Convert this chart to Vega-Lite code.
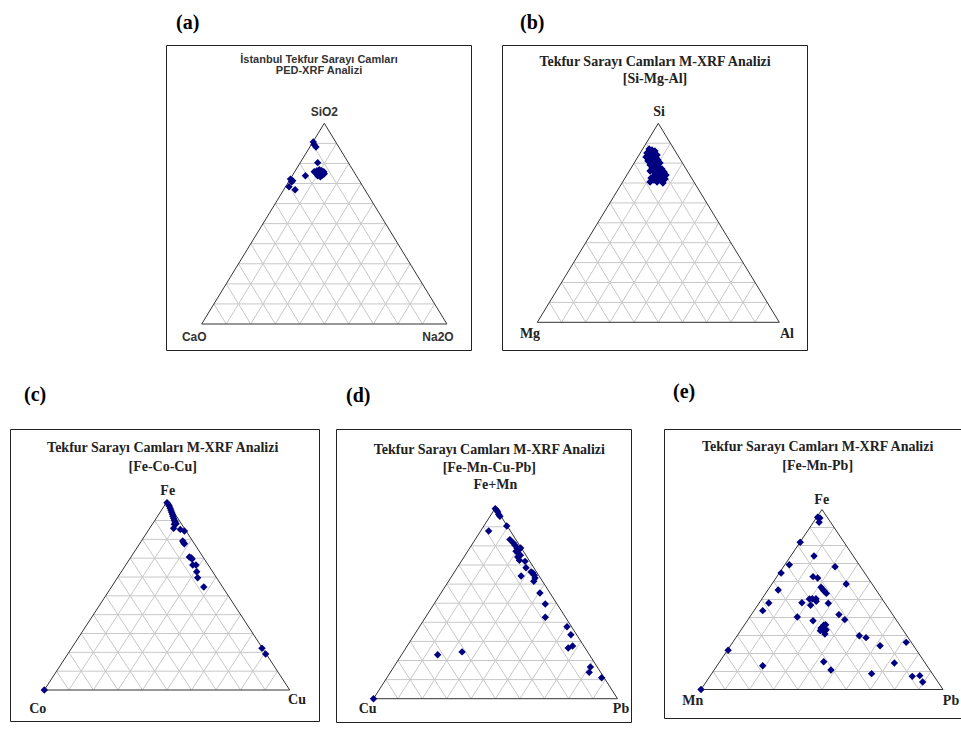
{
"$schema":"https://vega.github.io/schema/vega-lite/v6.json",
"background":"white",
"padding":{"left":0,"top":12,"right":0,"bottom":0},
"spacing":30,
"datasets":{
"grid":[
{"x":0.05,"y":0.1,"x2":0.95,"y2":0.1},{"x":0.1,"y":0.2,"x2":0.9,"y2":0.2},{"x":0.15,"y":0.3,"x2":0.85,"y2":0.3},{"x":0.2,"y":0.4,"x2":0.8,"y2":0.4},{"x":0.25,"y":0.5,"x2":0.75,"y2":0.5},{"x":0.3,"y":0.6,"x2":0.7,"y2":0.6},{"x":0.35,"y":0.7,"x2":0.65,"y2":0.7},{"x":0.4,"y":0.8,"x2":0.6,"y2":0.8},{"x":0.45,"y":0.9,"x2":0.55,"y2":0.9},
{"x":0.1,"y":0,"x2":0.55,"y2":0.9},{"x":0.2,"y":0,"x2":0.6,"y2":0.8},{"x":0.3,"y":0,"x2":0.65,"y2":0.7},{"x":0.4,"y":0,"x2":0.7,"y2":0.6},{"x":0.5,"y":0,"x2":0.75,"y2":0.5},{"x":0.6,"y":0,"x2":0.8,"y2":0.4},{"x":0.7,"y":0,"x2":0.85,"y2":0.3},{"x":0.8,"y":0,"x2":0.9,"y2":0.2},{"x":0.9,"y":0,"x2":0.95,"y2":0.1},
{"x":0.1,"y":0,"x2":0.05,"y2":0.1},{"x":0.2,"y":0,"x2":0.1,"y2":0.2},{"x":0.3,"y":0,"x2":0.15,"y2":0.3},{"x":0.4,"y":0,"x2":0.2,"y2":0.4},{"x":0.5,"y":0,"x2":0.25,"y2":0.5},{"x":0.6,"y":0,"x2":0.3,"y2":0.6},{"x":0.7,"y":0,"x2":0.35,"y2":0.7},{"x":0.8,"y":0,"x2":0.4,"y2":0.8},{"x":0.9,"y":0,"x2":0.45,"y2":0.9}
],
"edges":[{"x":0,"y":0,"x2":1,"y2":0},{"x":0,"y":0,"x2":0.5,"y2":1},{"x":1,"y":0,"x2":0.5,"y2":1}],
"a":[
{"x":0.455,"y":0.907},{"x":0.458,"y":0.894},{"x":0.466,"y":0.882},{"x":0.473,"y":0.804},{"x":0.459,"y":0.759},{"x":0.47,"y":0.764},{"x":0.48,"y":0.769},{"x":0.489,"y":0.764},{"x":0.498,"y":0.759},{"x":0.5,"y":0.749},{"x":0.487,"y":0.747},{"x":0.473,"y":0.739},{"x":0.466,"y":0.752},{"x":0.48,"y":0.756},{"x":0.484,"y":0.734},{"x":0.493,"y":0.742},{"x":0.423,"y":0.739},{"x":0.362,"y":0.722},{"x":0.367,"y":0.709},{"x":0.371,"y":0.714},{"x":0.356,"y":0.684},{"x":0.381,"y":0.669}
],
"b":[
{"x":0.462,"y":0.871},{"x":0.474,"y":0.866},{"x":0.486,"y":0.861},{"x":0.453,"y":0.851},{"x":0.466,"y":0.846},{"x":0.482,"y":0.846},{"x":0.495,"y":0.841},{"x":0.449,"y":0.831},{"x":0.462,"y":0.826},{"x":0.474,"y":0.831},{"x":0.491,"y":0.826},{"x":0.457,"y":0.811},{"x":0.47,"y":0.806},{"x":0.486,"y":0.811},{"x":0.499,"y":0.816},{"x":0.466,"y":0.791},{"x":0.478,"y":0.791},{"x":0.495,"y":0.796},{"x":0.507,"y":0.801},{"x":0.474,"y":0.775},{"x":0.491,"y":0.775},{"x":0.503,"y":0.78},{"x":0.515,"y":0.77},{"x":0.466,"y":0.76},{"x":0.482,"y":0.755},{"x":0.499,"y":0.76},{"x":0.511,"y":0.75},{"x":0.524,"y":0.755},{"x":0.486,"y":0.74},{"x":0.503,"y":0.735},{"x":0.519,"y":0.735},{"x":0.532,"y":0.74},{"x":0.47,"y":0.725},{"x":0.482,"y":0.715},{"x":0.499,"y":0.72},{"x":0.515,"y":0.715},{"x":0.528,"y":0.72},{"x":0.466,"y":0.705},{"x":0.495,"y":0.705},{"x":0.519,"y":0.7}
],
"c":[
{"x":0.5,"y":0.995},{"x":0.505,"y":0.986},{"x":0.509,"y":0.977},{"x":0.513,"y":0.965},{"x":0.516,"y":0.954},{"x":0.519,"y":0.944},{"x":0.522,"y":0.933},{"x":0.524,"y":0.923},{"x":0.527,"y":0.912},{"x":0.53,"y":0.901},{"x":0.533,"y":0.892},{"x":0.537,"y":0.883},{"x":0.53,"y":0.88},{"x":0.527,"y":0.859},{"x":0.554,"y":0.853},{"x":0.571,"y":0.844},{"x":0.564,"y":0.791},{"x":0.568,"y":0.782},{"x":0.571,"y":0.777},{"x":0.591,"y":0.706},{"x":0.598,"y":0.703},{"x":0.602,"y":0.696},{"x":0.605,"y":0.664},{"x":0.618,"y":0.664},{"x":0.621,"y":0.628},{"x":0.625,"y":0.596},{"x":0.65,"y":0.547},{"x":0.887,"y":0.222},{"x":0.902,"y":0.191},{"x":0,"y":0}
],
"d":[
{"x":0.499,"y":0.995},{"x":0.505,"y":0.986},{"x":0.509,"y":0.978},{"x":0.513,"y":0.965},{"x":0.518,"y":0.955},{"x":0.546,"y":0.904},{"x":0.472,"y":0.878},{"x":0.559,"y":0.833},{"x":0.573,"y":0.815},{"x":0.58,"y":0.803},{"x":0.588,"y":0.789},{"x":0.598,"y":0.782},{"x":0.603,"y":0.789},{"x":0.584,"y":0.772},{"x":0.593,"y":0.763},{"x":0.602,"y":0.751},{"x":0.591,"y":0.742},{"x":0.598,"y":0.725},{"x":0.621,"y":0.719},{"x":0.625,"y":0.686},{"x":0.646,"y":0.663},{"x":0.653,"y":0.658},{"x":0.659,"y":0.646},{"x":0.662,"y":0.632},{"x":0.657,"y":0.615},{"x":0.605,"y":0.642},{"x":0.682,"y":0.553},{"x":0.704,"y":0.496},{"x":0.704,"y":0.426},{"x":0.793,"y":0.377},{"x":0.809,"y":0.335},{"x":0.798,"y":0.265},{"x":0.816,"y":0.276},{"x":0.263,"y":0.23},{"x":0.363,"y":0.245},{"x":0.889,"y":0.166},{"x":0.884,"y":0.138},{"x":0.935,"y":0.11},{"x":0,"y":0}
],
"e":[
{"x":0.482,"y":0.957},{"x":0.491,"y":0.953},{"x":0.488,"y":0.929},{"x":0.41,"y":0.818},{"x":0.467,"y":0.742},{"x":0.365,"y":0.693},{"x":0.554,"y":0.682},{"x":0.331,"y":0.647},{"x":0.463,"y":0.627},{"x":0.482,"y":0.619},{"x":0.6,"y":0.586},{"x":0.496,"y":0.568},{"x":0.504,"y":0.554},{"x":0.51,"y":0.546},{"x":0.518,"y":0.534},{"x":0.319,"y":0.553},{"x":0.28,"y":0.481},{"x":0.417,"y":0.482},{"x":0.448,"y":0.503},{"x":0.46,"y":0.504},{"x":0.475,"y":0.504},{"x":0.476,"y":0.49},{"x":0.453,"y":0.468},{"x":0.526,"y":0.479},{"x":0.255,"y":0.438},{"x":0.398,"y":0.403},{"x":0.57,"y":0.416},{"x":0.594,"y":0.388},{"x":0.463,"y":0.382},{"x":0.507,"y":0.357},{"x":0.515,"y":0.36},{"x":0.496,"y":0.342},{"x":0.503,"y":0.332},{"x":0.51,"y":0.323},{"x":0.512,"y":0.308},{"x":0.493,"y":0.327},{"x":0.517,"y":0.332},{"x":0.654,"y":0.299},{"x":0.682,"y":0.288},{"x":0.74,"y":0.243},{"x":0.848,"y":0.262},{"x":0.112,"y":0.218},{"x":0.255,"y":0.132},{"x":0.507,"y":0.154},{"x":0.537,"y":0.108},{"x":0.799,"y":0.147},{"x":0.705,"y":0.088},{"x":0.873,"y":0.073},{"x":0.904,"y":0.077},{"x":0.916,"y":0.042},{"x":0,"y":0}
]
},
"vconcat":[
{"spacing":0,"hconcat":[
{"width":165,"height":1,"data":{"values":[]},"mark":"point","view":{"stroke":null}},
{"width":305,"height":305,"title":{"text":"(a)","dx":10,"offset":12},
"layer":[
{"data":{"name":"grid"},"mark":{"type":"rule","color":"#c8c8c8","strokeWidth":1},"encoding":{"x":{"field":"x","type":"quantitative","scale":{"domain":[-0.1456,1.0983],"nice":false,"zero":false},"axis":null},"y":{"field":"y","type":"quantitative","scale":{"domain":[-0.1295,1.3901],"nice":false,"zero":false},"axis":null},"x2":{"field":"x2"},"y2":{"field":"y2"}}},
{"data":{"name":"edges"},"mark":{"type":"rule","color":"#333333","strokeWidth":1},"encoding":{"x":{"field":"x","type":"quantitative","scale":{"domain":[-0.1456,1.0983],"nice":false,"zero":false},"axis":null},"y":{"field":"y","type":"quantitative","scale":{"domain":[-0.1295,1.3901],"nice":false,"zero":false},"axis":null},"x2":{"field":"x2"},"y2":{"field":"y2"}}},
{"data":{"name":"a"},"mark":{"type":"point","shape":"diamond","filled":true,"color":"#000080","size":55,"opacity":1},"encoding":{"x":{"field":"x","type":"quantitative","scale":{"domain":[-0.1456,1.0983],"nice":false,"zero":false},"axis":null},"y":{"field":"y","type":"quantitative","scale":{"domain":[-0.1295,1.3901],"nice":false,"zero":false},"axis":null}}},
{"data":{"values":[{}]},"mark":{"type":"text","font":"Liberation Sans","fontSize":11,"fontWeight":"bold","color":"#333333"},"encoding":{"x":{"datum":0.4784,"type":"quantitative"},"y":{"datum":1.3154,"type":"quantitative"},"text":{"value":"İstanbul Tekfur Sarayı Camları"}}},
{"data":{"values":[{}]},"mark":{"type":"text","font":"Liberation Sans","fontSize":11,"fontWeight":"bold","color":"#333333"},"encoding":{"x":{"datum":0.4784,"type":"quantitative"},"y":{"datum":1.2596,"type":"quantitative"},"text":{"value":"PED-XRF Analizi"}}},
{"data":{"values":[{}]},"mark":{"type":"text","font":"Liberation Sans","fontSize":12,"fontWeight":"bold","color":"#333333"},"encoding":{"x":{"datum":0.5,"type":"quantitative"},"y":{"datum":1.0563,"type":"quantitative"},"text":{"value":"SiO2"}}},
{"data":{"values":[{}]},"mark":{"type":"text","font":"Liberation Sans","fontSize":12,"fontWeight":"bold","color":"#333333"},"encoding":{"x":{"datum":-0.0302,"type":"quantitative"},"y":{"datum":-0.0633,"type":"quantitative"},"text":{"value":"CaO"}}},
{"data":{"values":[{}]},"mark":{"type":"text","font":"Liberation Sans","fontSize":12,"fontWeight":"bold","color":"#333333"},"encoding":{"x":{"datum":0.9637,"type":"quantitative"},"y":{"datum":-0.0633,"type":"quantitative"},"text":{"value":"Na2O"}}}
]},
{"width":29,"height":1,"data":{"values":[]},"mark":"point","view":{"stroke":null}},
{"width":305,"height":305,"title":{"text":"(b)","dx":18,"offset":12},
"layer":[
{"data":{"name":"grid"},"mark":{"type":"rule","color":"#c8c8c8","strokeWidth":1},"encoding":{"x":{"field":"x","type":"quantitative","scale":{"domain":[-0.1459,1.1145],"nice":false,"zero":false},"axis":null},"y":{"field":"y","type":"quantitative","scale":{"domain":[-0.1392,1.3935],"nice":false,"zero":false},"axis":null},"x2":{"field":"x2"},"y2":{"field":"y2"}}},
{"data":{"name":"edges"},"mark":{"type":"rule","color":"#333333","strokeWidth":1},"encoding":{"x":{"field":"x","type":"quantitative","scale":{"domain":[-0.1459,1.1145],"nice":false,"zero":false},"axis":null},"y":{"field":"y","type":"quantitative","scale":{"domain":[-0.1392,1.3935],"nice":false,"zero":false},"axis":null},"x2":{"field":"x2"},"y2":{"field":"y2"}}},
{"data":{"name":"b"},"mark":{"type":"point","shape":"diamond","filled":true,"color":"#000080","size":55,"opacity":1},"encoding":{"x":{"field":"x","type":"quantitative","scale":{"domain":[-0.1459,1.1145],"nice":false,"zero":false},"axis":null},"y":{"field":"y","type":"quantitative","scale":{"domain":[-0.1392,1.3935],"nice":false,"zero":false},"axis":null}}},
{"data":{"values":[{}]},"mark":{"type":"text","fontSize":14},"encoding":{"x":{"datum":0.4864,"type":"quantitative"},"y":{"datum":1.3065,"type":"quantitative"},"text":{"value":"Tekfur Sarayı Camları M-XRF Analizi"}}},
{"data":{"values":[{}]},"mark":{"type":"text","fontSize":14},"encoding":{"x":{"datum":0.4864,"type":"quantitative"},"y":{"datum":1.2226,"type":"quantitative"},"text":{"value":"[Si-Mg-Al]"}}},
{"data":{"values":[{}]},"mark":{"type":"text"},"encoding":{"x":{"datum":0.5029,"type":"quantitative"},"y":{"datum":1.0568,"type":"quantitative"},"text":{"value":"Si"}}},
{"data":{"values":[{}]},"mark":{"type":"text"},"encoding":{"x":{"datum":-0.0302,"type":"quantitative"},"y":{"datum":-0.0588,"type":"quantitative"},"text":{"value":"Mg"}}},
{"data":{"values":[{}]},"mark":{"type":"text"},"encoding":{"x":{"datum":1.0318,"type":"quantitative"},"y":{"datum":-0.0588,"type":"quantitative"},"text":{"value":"Al"}}}
]}
]},
{"spacing":0,"hconcat":[
{"width":9,"height":1,"data":{"values":[]},"mark":"point","view":{"stroke":null}},
{"width":309,"height":292,"title":{"text":"(c)","dx":14,"offset":24},
"layer":[
{"data":{"name":"grid"},"mark":{"type":"rule","color":"#c8c8c8","strokeWidth":1},"encoding":{"x":{"field":"x","type":"quantitative","scale":{"domain":[-0.1398,1.1194],"nice":false,"zero":false},"axis":null},"y":{"field":"y","type":"quantitative","scale":{"domain":[-0.1646,1.3861],"nice":false,"zero":false},"axis":null},"x2":{"field":"x2"},"y2":{"field":"y2"}}},
{"data":{"name":"edges"},"mark":{"type":"rule","color":"#333333","strokeWidth":1},"encoding":{"x":{"field":"x","type":"quantitative","scale":{"domain":[-0.1398,1.1194],"nice":false,"zero":false},"axis":null},"y":{"field":"y","type":"quantitative","scale":{"domain":[-0.1646,1.3861],"nice":false,"zero":false},"axis":null},"x2":{"field":"x2"},"y2":{"field":"y2"}}},
{"data":{"name":"c"},"mark":{"type":"point","shape":"diamond","filled":true,"color":"#000080","size":55,"opacity":1},"encoding":{"x":{"field":"x","type":"quantitative","scale":{"domain":[-0.1398,1.1194],"nice":false,"zero":false},"axis":null},"y":{"field":"y","type":"quantitative","scale":{"domain":[-0.1646,1.3861],"nice":false,"zero":false},"axis":null}}},
{"data":{"values":[{}]},"mark":{"type":"text","fontSize":14},"encoding":{"x":{"datum":0.4825,"type":"quantitative"},"y":{"datum":1.2868,"type":"quantitative"},"text":{"value":"Tekfur Sarayı Camları M-XRF Analizi"}}},
{"data":{"values":[{}]},"mark":{"type":"text","fontSize":14},"encoding":{"x":{"datum":0.4825,"type":"quantitative"},"y":{"datum":1.1843,"type":"quantitative"},"text":{"value":"[Fe-Co-Cu]"}}},
{"data":{"values":[{}]},"mark":{"type":"text"},"encoding":{"x":{"datum":0.5029,"type":"quantitative"},"y":{"datum":1.0568,"type":"quantitative"},"text":{"value":"Fe"}}},
{"data":{"values":[{}]},"mark":{"type":"text"},"encoding":{"x":{"datum":-0.0269,"type":"quantitative"},"y":{"datum":-0.1025,"type":"quantitative"},"text":{"value":"Co"}}},
{"data":{"values":[{}]},"mark":{"type":"text"},"encoding":{"x":{"datum":1.0297,"type":"quantitative"},"y":{"datum":-0.0547,"type":"quantitative"},"text":{"value":"Cu"}}}
]},
{"width":14.5,"height":1,"data":{"values":[]},"mark":"point","view":{"stroke":null}},
{"width":295,"height":293,"title":{"text":"(d)","dx":10,"offset":23},
"layer":[
{"data":{"name":"grid"},"mark":{"type":"rule","color":"#c8c8c8","strokeWidth":1},"encoding":{"x":{"field":"x","type":"quantitative","scale":{"domain":[-0.1537,1.0553],"nice":false,"zero":false},"axis":null},"y":{"field":"y","type":"quantitative","scale":{"domain":[-0.122,1.412],"nice":false,"zero":false},"axis":null},"x2":{"field":"x2"},"y2":{"field":"y2"}}},
{"data":{"name":"edges"},"mark":{"type":"rule","color":"#333333","strokeWidth":1},"encoding":{"x":{"field":"x","type":"quantitative","scale":{"domain":[-0.1537,1.0553],"nice":false,"zero":false},"axis":null},"y":{"field":"y","type":"quantitative","scale":{"domain":[-0.122,1.412],"nice":false,"zero":false},"axis":null},"x2":{"field":"x2"},"y2":{"field":"y2"}}},
{"data":{"name":"d"},"mark":{"type":"point","shape":"diamond","filled":true,"color":"#000080","size":55,"opacity":1},"encoding":{"x":{"field":"x","type":"quantitative","scale":{"domain":[-0.1537,1.0553],"nice":false,"zero":false},"axis":null},"y":{"field":"y","type":"quantitative","scale":{"domain":[-0.122,1.412],"nice":false,"zero":false},"axis":null}}},
{"data":{"values":[{}]},"mark":{"type":"text","fontSize":14},"encoding":{"x":{"datum":0.4746,"type":"quantitative"},"y":{"datum":1.3005,"type":"quantitative"},"text":{"value":"Tekfur Sarayı Camları M-XRF Analizi"}}},
{"data":{"values":[{}]},"mark":{"type":"text","fontSize":14},"encoding":{"x":{"datum":0.4746,"type":"quantitative"},"y":{"datum":1.2079,"type":"quantitative"},"text":{"value":"[Fe-Mn-Cu-Pb]"}}},
{"data":{"values":[{}]},"mark":{"type":"text"},"encoding":{"x":{"datum":0.4992,"type":"quantitative"},"y":{"datum":1.1173,"type":"quantitative"},"text":{"value":"Fe+Mn"}}},
{"data":{"values":[{}]},"mark":{"type":"text"},"encoding":{"x":{"datum":-0.0238,"type":"quantitative"},"y":{"datum":-0.0524,"type":"quantitative"},"text":{"value":"Cu"}}},
{"data":{"values":[{}]},"mark":{"type":"text"},"encoding":{"x":{"datum":1.0143,"type":"quantitative"},"y":{"datum":-0.0524,"type":"quantitative"},"text":{"value":"Pb"}}}
]},
{"width":30.5,"height":1,"data":{"values":[]},"mark":"point","view":{"stroke":null}},
{"width":298,"height":289,"title":{"text":"(e)","dx":9,"offset":27},
"layer":[
{"data":{"name":"grid"},"mark":{"type":"rule","color":"#c8c8c8","strokeWidth":1},"encoding":{"x":{"field":"x","type":"quantitative","scale":{"domain":[-0.1529,1.0785],"nice":false,"zero":false},"axis":null},"y":{"field":"y","type":"quantitative","scale":{"domain":[-0.1583,1.4472],"nice":false,"zero":false},"axis":null},"x2":{"field":"x2"},"y2":{"field":"y2"}}},
{"data":{"name":"edges"},"mark":{"type":"rule","color":"#333333","strokeWidth":1},"encoding":{"x":{"field":"x","type":"quantitative","scale":{"domain":[-0.1529,1.0785],"nice":false,"zero":false},"axis":null},"y":{"field":"y","type":"quantitative","scale":{"domain":[-0.1583,1.4472],"nice":false,"zero":false},"axis":null},"x2":{"field":"x2"},"y2":{"field":"y2"}}},
{"data":{"name":"e"},"mark":{"type":"point","shape":"diamond","filled":true,"color":"#000080","size":55,"opacity":1},"encoding":{"x":{"field":"x","type":"quantitative","scale":{"domain":[-0.1529,1.0785],"nice":false,"zero":false},"axis":null},"y":{"field":"y","type":"quantitative","scale":{"domain":[-0.1583,1.4472],"nice":false,"zero":false},"axis":null}}},
{"data":{"values":[{}]},"mark":{"type":"text","fontSize":14},"encoding":{"x":{"datum":0.4822,"type":"quantitative"},"y":{"datum":1.3456,"type":"quantitative"},"text":{"value":"Tekfur Sarayı Camları M-XRF Analizi"}}},
{"data":{"values":[{}]},"mark":{"type":"text","fontSize":14},"encoding":{"x":{"datum":0.4822,"type":"quantitative"},"y":{"datum":1.2406,"type":"quantitative"},"text":{"value":"[Fe-Mn-Pb]"}}},
{"data":{"values":[{}]},"mark":{"type":"text"},"encoding":{"x":{"datum":0.4988,"type":"quantitative"},"y":{"datum":1.0544,"type":"quantitative"},"text":{"value":"Fe"}}},
{"data":{"values":[{}]},"mark":{"type":"text"},"encoding":{"x":{"datum":-0.0343,"type":"quantitative"},"y":{"datum":-0.0656,"type":"quantitative"},"text":{"value":"Mn"}}},
{"data":{"values":[{}]},"mark":{"type":"text"},"encoding":{"x":{"datum":1.0331,"type":"quantitative"},"y":{"datum":-0.0656,"type":"quantitative"},"text":{"value":"Pb"}}}
]}
]}
],
"config":{
"view":{"stroke":"#222222","strokeWidth":1},
"title":{"font":"Liberation Serif","fontSize":20,"fontWeight":"bold","color":"#000000","anchor":"start","baseline":"alphabetic"},
"text":{"font":"Liberation Serif","fontWeight":"bold","fontSize":14,"color":"#222222"}
}
}
